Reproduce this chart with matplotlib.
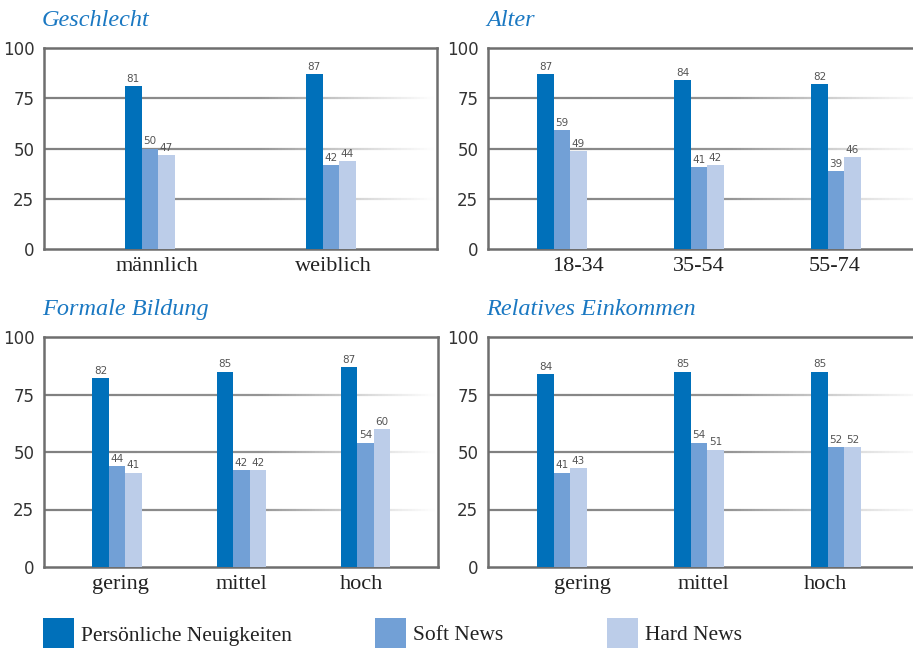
import numpy as np
import matplotlib
matplotlib.use("Agg")
import matplotlib.pyplot as plt
from matplotlib.collections import LineCollection
from matplotlib.patches import Rectangle

# Anteile in Prozent je Gruppe
series = ["Persönliche Neuigkeiten", "Soft News", "Hard News"]
colors = ["#0070ba", "#72a0d6", "#bccde9"]

geschlecht_cats = ["männlich", "weiblich"]
geschlecht_pers = [81, 87]
geschlecht_soft = [50, 42]
geschlecht_hard = [47, 44]

alter_cats = ["18-34", "35-54", "55-74"]
alter_pers = [87, 84, 82]
alter_soft = [59, 41, 39]
alter_hard = [49, 42, 46]

bildung_cats = ["gering", "mittel", "hoch"]
bildung_pers = [82, 85, 87]
bildung_soft = [44, 42, 54]
bildung_hard = [41, 42, 60]

einkommen_cats = ["gering", "mittel", "hoch"]
einkommen_pers = [84, 85, 85]
einkommen_soft = [41, 54, 52]
einkommen_hard = [43, 51, 52]

W, H = 913, 648
fig = plt.figure(figsize=(W / 100, H / 100), dpi=100)

SERIF = "Liberation Serif"
FRAME = "#6e6e6e"
BAR_PX = 16.5


def fading_grid(ax, y, x0, x1):
    xs = np.linspace(x0, x1, 120)
    segs = [[(xs[i], y), (xs[i + 1], y)] for i in range(len(xs) - 1)]
    t = np.linspace(0, 1, len(segs))
    fade = np.clip((1 - t) / 0.45, 0, 1)
    g = 0.50 + 0.50 * (1 - fade) + 0.15 * fade * t
    cols = [(v, v, v) for v in np.clip(g, 0, 1)]
    lc = LineCollection(segs, colors=cols, linewidths=1.6, zorder=1)
    ax.add_collection(lc)


def panel(box, title, cats, values, spacing, offset, tick_shift):
    left, top, right, bottom = box
    ax = fig.add_axes([left / W, 1 - bottom / H, (right - left) / W, (bottom - top) / H])
    width_px = right - left
    x = np.arange(len(cats))
    x0 = -offset / spacing
    x1 = (width_px - offset) / spacing
    w = BAR_PX / spacing
    for k, (vals, col) in enumerate(zip(values, colors)):
        pos = x + (k - 1) * w
        ax.bar(pos, vals, width=w, color=col, zorder=3, linewidth=0)
        for p, v in zip(pos, vals):
            ax.text(p, v + 1.0, str(v), ha="center", va="bottom", fontsize=7.5,
                    color="#555555", zorder=4)
    for gy in (25, 50, 75):
        fading_grid(ax, gy, x0, x1)
    ax.set_xlim(x0, x1)
    ax.set_ylim(0, 100)
    ax.set_yticks([0, 25, 50, 75, 100])
    ax.set_yticklabels(["0", "25", "50", "75", "100"], fontsize=12, color="#333333")
    ax.set_xticks(x + np.array(tick_shift) / spacing)
    ax.set_xticklabels(cats, fontfamily=SERIF, fontsize=16, color="#222222")
    ax.tick_params(length=0, pad=6)
    ax.tick_params(axis="y", pad=7)
    for s in ax.spines.values():
        s.set_color(FRAME)
        s.set_linewidth(1.8)
    ax.text(-2 / width_px, 1.0 + 22 / (bottom - top), title, transform=ax.transAxes,
            fontfamily=SERIF, fontstyle="italic", fontsize=17.5, color="#1a78c2",
            ha="left", va="baseline")
    return ax


panel((44, 48, 437, 249), "Geschlecht", geschlecht_cats,
      [geschlecht_pers, geschlecht_soft, geschlecht_hard], 181, 105.75, [7, 3])
panel((488, 48, 930, 249), "Alter", alter_cats,
      [alter_pers, alter_soft, alter_hard], 137, 74, [16, 0, -1])
panel((44, 337, 438, 567), "Formale Bildung", bildung_cats,
      [bildung_pers, bildung_soft, bildung_hard], 124.3, 73, [3, 0, -4])
panel((488, 337, 930, 567), "Relatives Einkommen", einkommen_cats,
      [einkommen_pers, einkommen_soft, einkommen_hard], 137, 74, [20, 4, -11])

# Legende unten, Kästchen laufen über den Rand hinaus
leg_x = [43, 375, 607]
for lx, name, col in zip(leg_x, series, colors):
    fig.patches.append(Rectangle((lx / W, 1 - 652 / H), 31 / W, 34 / H,
                                 transform=fig.transFigure, color=col, linewidth=0))
    fig.text((lx + 38) / W, 1 - 636 / H, name, fontfamily=SERIF, fontsize=15.5,
             color="#222222", ha="left", va="center")

fig.savefig("out.png", dpi=100)
